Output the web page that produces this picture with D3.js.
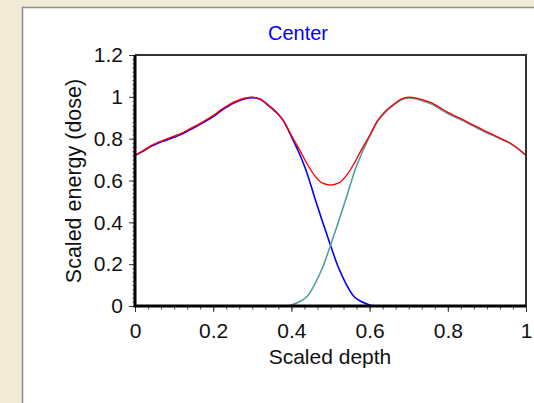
<!DOCTYPE html>
<html>
<head>
<meta charset="utf-8">
<script src="https://cdn.jsdelivr.net/npm/d3@7"></script>
<style>
  html, body { margin: 0; padding: 0; background: #f0ead6; overflow: hidden; }
  svg { display: block; }
  text { font-family: "Liberation Sans", Arial, sans-serif; fill: #111; }
</style>
</head>
<body>
<script>
var
  // total dose (red)
  sumDepth = [0, 0.02, 0.04, 0.06, 0.08, 0.10, 0.12, 0.14, 0.16, 0.18, 0.20, 0.22, 0.24, 0.26, 0.28, 0.30,
    0.32, 0.34, 0.36, 0.38, 0.40, 0.42, 0.44, 0.46, 0.48, 0.50, 0.52, 0.54, 0.56, 0.58, 0.60, 0.62, 0.64,
    0.66, 0.68, 0.70, 0.72, 0.74, 0.76, 0.78, 0.80, 0.82, 0.84, 0.86, 0.88, 0.90, 0.92, 0.94, 0.96, 0.98, 1],
  sumDose = [0.720, 0.742, 0.765, 0.783, 0.798, 0.812, 0.827, 0.847, 0.866, 0.888, 0.910, 0.938, 0.962, 0.980, 0.993, 0.998,
    0.990, 0.962, 0.930, 0.885, 0.815, 0.750, 0.680, 0.622, 0.587, 0.578, 0.587, 0.622, 0.680, 0.750, 0.815, 0.885, 0.930,
    0.962, 0.988, 0.998, 0.994, 0.983, 0.970, 0.948, 0.926, 0.907, 0.890, 0.870, 0.851, 0.832, 0.815, 0.797, 0.778, 0.752, 0.720],

  // beam from the left (blue)
  leftDepth = [0, 0.02, 0.04, 0.06, 0.08, 0.10, 0.12, 0.14, 0.16, 0.18, 0.20, 0.22, 0.24, 0.26, 0.28, 0.30,
    0.32, 0.34, 0.36, 0.38, 0.40, 0.42, 0.44, 0.46, 0.48, 0.50, 0.52, 0.54, 0.56, 0.58, 0.60, 0.61],
  leftDose = [0.720, 0.740, 0.762, 0.779, 0.793, 0.807, 0.822, 0.842, 0.861, 0.883, 0.905, 0.933, 0.957, 0.976, 0.990, 0.996,
    0.989, 0.960, 0.928, 0.884, 0.810, 0.730, 0.635, 0.515, 0.400, 0.290, 0.185, 0.105, 0.045, 0.020, 0.005, 0],

  // beam from the right (teal)
  rightDepth = [0.39, 0.40, 0.42, 0.44, 0.46, 0.48, 0.50, 0.52, 0.54, 0.56, 0.58, 0.60, 0.62, 0.64, 0.66, 0.68,
    0.70, 0.72, 0.74, 0.76, 0.78, 0.80, 0.82, 0.84, 0.86, 0.88, 0.90, 0.92, 0.94, 0.96, 0.98, 1],
  rightDose = [0, 0.005, 0.020, 0.045, 0.105, 0.185, 0.290, 0.400, 0.515, 0.635, 0.730, 0.810, 0.882, 0.927, 0.958, 0.985,
    0.995, 0.990, 0.978, 0.964, 0.942, 0.920, 0.902, 0.885, 0.865, 0.846, 0.827, 0.812, 0.795, 0.777, 0.751, 0.720],

  xTicks = [0, 0.2, 0.4, 0.6, 0.8, 1],
  xTickLabels = ['0', '0.2', '0.4', '0.6', '0.8', '1'],
  yTicks = [0, 0.2, 0.4, 0.6, 0.8, 1, 1.2],
  yTickLabels = ['0', '0.2', '0.4', '0.6', '0.8', '1', '1.2'],

  config = {
    w : 534,
    h : 403,
    left : 135,
    right : 526,
    top : 55,
    bottom : 306
  },

  zip = function zip(xs, ys) {
    return xs.map(function (v, i) { return [v, ys[i]]; });
  },

  drawChart = function drawChart() {
    var
      svg = d3.select('body').append('svg')
        .attr('width', config.w).attr('height', config.h),

      x = d3.scaleLinear().domain([0, 1]).range([config.left, config.right]),
      y = d3.scaleLinear().domain([0, 1.2]).range([config.bottom, config.top]),

      line = d3.line()
        .x(function (d) { return x(d[0]); })
        .y(function (d) { return y(d[1]); })
        .curve(d3.curveMonotoneX),

      xMinor = d3.range(0, 1.0001, 0.2 / 6),
      yMinor = d3.range(0, 1.2001, 0.02),
      gx, gy;

    // white panel
    svg.append('rect')
      .attr('x', 22.5).attr('y', 7.5)
      .attr('width', 600).attr('height', 500)
      .attr('fill', '#fff')
      .attr('stroke', '#8c8c8c')
      .attr('stroke-width', 1.5);

    // minor ticks
    svg.append('g')
      .attr('transform', 'translate(' + config.left + ',0)')
      .call(d3.axisLeft(y).tickValues(yMinor).tickSize(2.5).tickFormat(''))
      .call(function (g) { g.select('.domain').remove(); g.selectAll('line').attr('stroke', '#444'); });

    svg.append('g')
      .attr('transform', 'translate(0,' + config.bottom + ')')
      .call(d3.axisBottom(x).tickValues(xMinor).tickSize(3.5).tickFormat(''))
      .call(function (g) { g.select('.domain').remove(); g.selectAll('line').attr('stroke', '#444'); });

    // major ticks + labels
    gy = svg.append('g')
      .attr('transform', 'translate(' + config.left + ',0)')
      .call(d3.axisLeft(y).tickValues(yTicks).tickSize(6).tickPadding(6)
        .tickFormat(function (d, i) { return yTickLabels[i]; }));

    gx = svg.append('g')
      .attr('transform', 'translate(0,' + config.bottom + ')')
      .call(d3.axisBottom(x).tickValues(xTicks).tickSize(6).tickPadding(11)
        .tickFormat(function (d, i) { return xTickLabels[i]; }));

    [gx, gy].forEach(function (g) {
      g.select('.domain').remove();
      g.selectAll('line').attr('stroke', '#333');
      g.selectAll('text')
        .attr('font-family', '"Liberation Sans", Arial, sans-serif')
        .attr('font-size', 21)
        .attr('fill', '#1a1a1a');
    });

    // curves
    svg.append('path')
      .attr('d', line(zip(leftDepth, leftDose)))
      .attr('fill', 'none').attr('stroke', '#0000ff').attr('stroke-width', 1.6);

    svg.append('path')
      .attr('d', line(zip(rightDepth, rightDose)))
      .attr('fill', 'none').attr('stroke', '#52a09c').attr('stroke-width', 1.6);

    svg.append('path')
      .attr('d', line(zip(sumDepth, sumDose)))
      .attr('fill', 'none').attr('stroke', '#ff0000').attr('stroke-width', 1.4);

    // frame: thin top/right, thick left/bottom
    svg.append('path')
      .attr('d', 'M' + config.left + ',' + config.top + 'H' + config.right + 'V' + config.bottom)
      .attr('fill', 'none').attr('stroke', '#333').attr('stroke-width', 2);

    svg.append('path')
      .attr('d', 'M' + config.left + ',' + config.top + 'V' + config.bottom + 'H' + config.right)
      .attr('fill', 'none').attr('stroke', '#000').attr('stroke-width', 3);

    // titles
    svg.append('text')
      .attr('x', 298).attr('y', 40)
      .attr('text-anchor', 'middle')
      .attr('font-size', 20)
      .style('fill', '#0000ff')
      .text('Center');

    svg.append('text')
      .attr('x', 330).attr('y', 364)
      .attr('text-anchor', 'middle')
      .attr('font-size', 21)
      .text('Scaled depth');

    svg.append('text')
      .attr('transform', 'translate(81,' + 181 + ') rotate(-90)')
      .attr('text-anchor', 'middle')
      .attr('font-size', 21.5)
      .text('Scaled energy (dose)');
  },

  init = function init() {
    drawChart();
  };

window.addEventListener('load', init, false);
</script>
</body>
</html>
